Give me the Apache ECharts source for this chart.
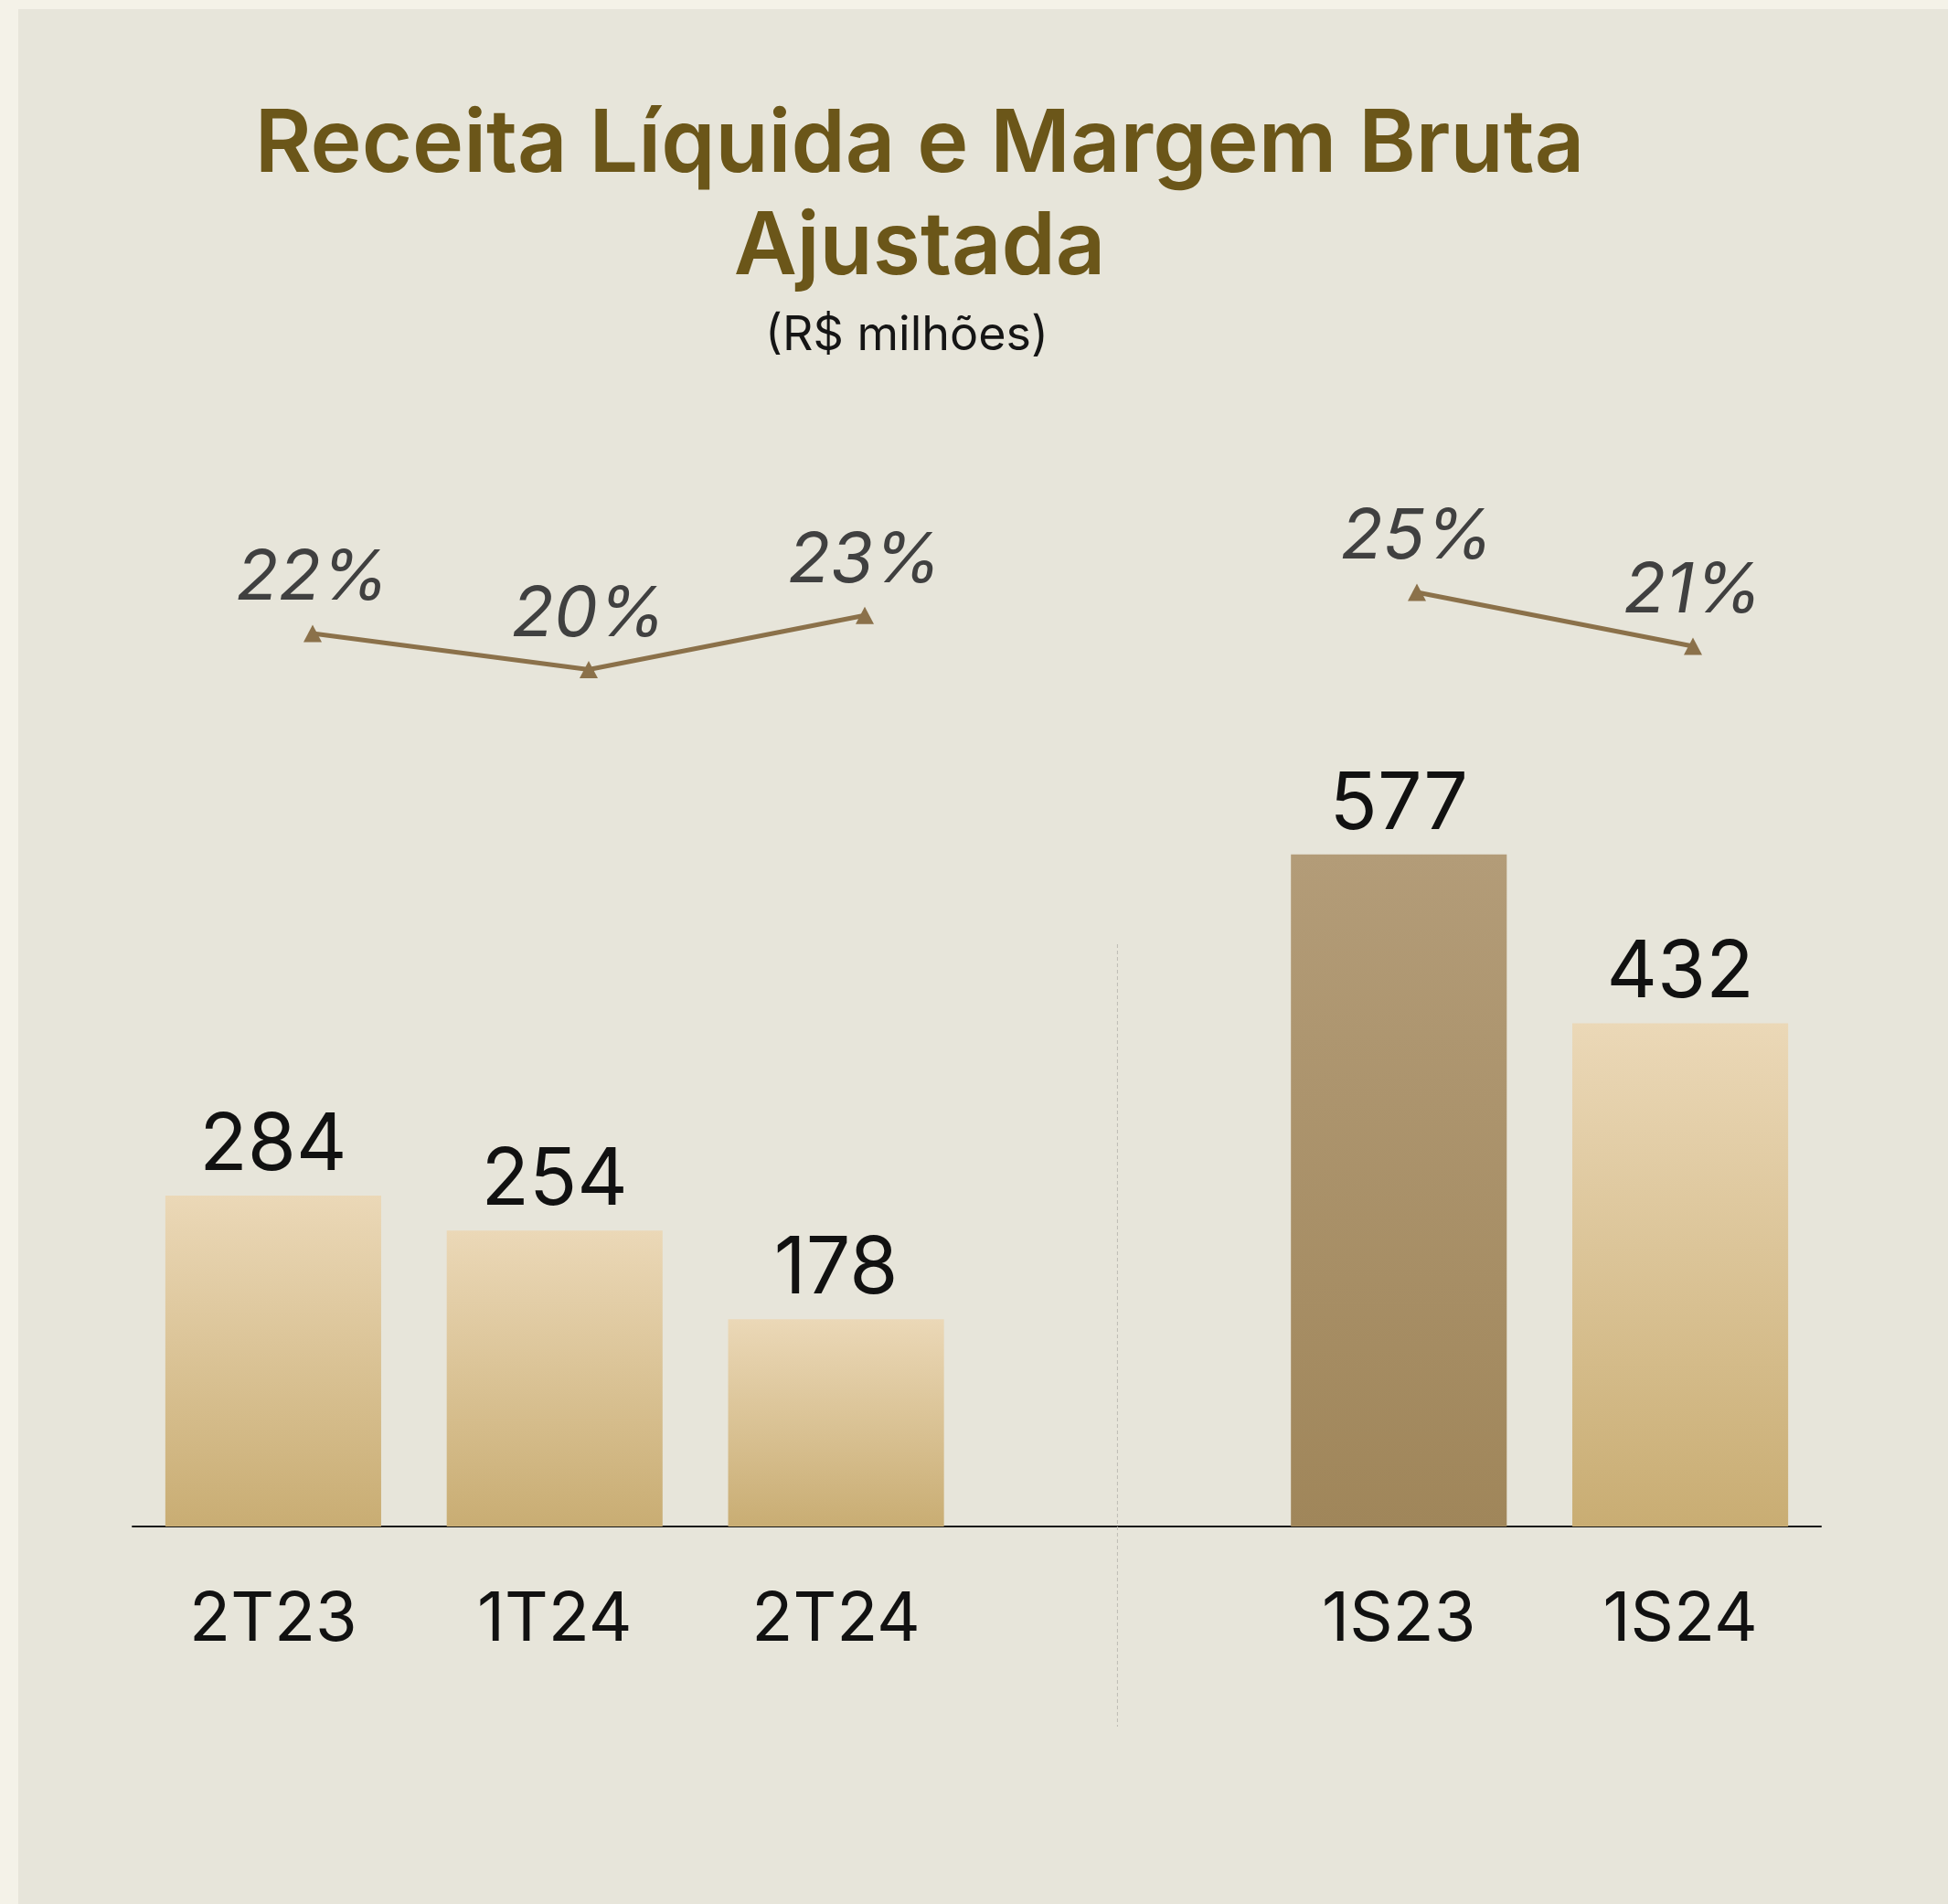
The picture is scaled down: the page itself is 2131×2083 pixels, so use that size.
<!DOCTYPE html>
<html>
<head>
<meta charset="utf-8">
<title>Receita Líquida e Margem Bruta Ajustada</title>
<script src="https://cdn.jsdelivr.net/npm/echarts@6/dist/echarts.min.js"></script>
<style>
  html, body { margin: 0; padding: 0; background: #F4F2E8; }
  #main { width: 2131px; height: 2083px; }
</style>
</head>
<body>
<div id="main"></div>
<script>
// categorias (a vazia separa trimestres de semestres)
const categories = ['2T23', '1T24', '2T24', '', '1S23', '1S24'];
// receita líquida (R$ milhões)
const revenue = [284, 254, 178, null, 577, 432];
// margem bruta ajustada (%)
const marginQuarters = [22, 20, 23, null, null, null];
const marginSemesters = [null, null, null, null, 25, 21];

const chart = echarts.init(document.getElementById('main'));

const lightBar = new echarts.graphic.LinearGradient(0, 0, 0, 1, [
    { offset: 0, color: '#EBD8B7' },
    { offset: 1, color: '#C9AD73' }
]);
const darkBar = new echarts.graphic.LinearGradient(0, 0, 0, 1, [
    { offset: 0, color: '#B39C78' },
    { offset: 1, color: '#A0865A' }
]);

const labelFont = 'Inter, "Liberation Sans", sans-serif';
const lineColor = '#8B714A';

const panel = {
    type: 'rect',
    z: -10,
    silent: true,
    shape: { x: 20, y: 10, width: 2111, height: 2073 },
    style: { fill: '#E7E5DA' }
};

function marginLabel() {
    return {
        show: true,
        position: 'top',
        distance: 12,
        formatter: '{c}%',
        fontFamily: labelFont,
        fontStyle: 'italic',
        fontSize: 76,
        color: '#404040'
    };
}

chart.setOption({
    backgroundColor: '#F4F2E8',
    animation: false,
    graphic: [panel],
    title: [{
        text: 'Receita Líquida e Margem Bruta\nAjustada',
        left: 1006,
        top: 103,
        padding: 0,
        textAlign: 'center',
        textStyle: {
            fontFamily: 'Inter, "Noto Sans", sans-serif',
            fontWeight: 600,
            fontSize: 95,
            lineHeight: 112,
            color: '#6B5619'
        }
    }, {
        text: '(R$ milhões)',
        left: 992,
        top: 341,
        padding: 0,
        textAlign: 'center',
        textStyle: {
            fontFamily: labelFont,
            fontWeight: 400,
            fontSize: 52,
            color: '#151515'
        }
    }],
    grid: [
        { left: 145, right: 139, top: 778, height: 892 },
        { left: 191, width: 1812, top: 535, height: 395 }
    ],
    xAxis: [{
        type: 'category',
        gridIndex: 0,
        data: categories,
        axisTick: { show: false },
        axisLine: { lineStyle: { color: '#161616', width: 2 } },
        axisLabel: {
            margin: 66,
            fontFamily: labelFont,
            fontSize: 74,
            color: '#111111'
        }
    }, {
        type: 'category',
        gridIndex: 1,
        data: categories,
        show: false
    }],
    yAxis: [{
        type: 'value',
        gridIndex: 0,
        min: 0,
        max: 700,
        show: false
    }, {
        type: 'value',
        gridIndex: 1,
        min: 10,
        max: 30,
        show: false
    }, {
        type: 'value',
        gridIndex: 1,
        min: 5.88,
        max: 32.66,
        show: false
    }],
    series: [{
        name: 'Receita Líquida',
        type: 'bar',
        xAxisIndex: 0,
        yAxisIndex: 0,
        barWidth: '76.7%',
        data: revenue.map((v, i) => ({
            value: v,
            itemStyle: { color: categories[i] === '1S23' ? darkBar : lightBar }
        })),
        label: {
            show: true,
            position: 'top',
            distance: 11,
            fontFamily: labelFont,
            fontSize: 86,
            color: '#111111'
        }
    }, {
        name: 'Margem Bruta (trimestres)',
        type: 'line',
        xAxisIndex: 1,
        yAxisIndex: 1,
        data: marginQuarters,
        symbol: 'triangle',
        symbolSize: [20, 19],
        lineStyle: { color: lineColor, width: 5 },
        itemStyle: { color: lineColor },
        label: marginLabel()
    }, {
        name: 'Margem Bruta (semestres)',
        type: 'line',
        xAxisIndex: 1,
        yAxisIndex: 2,
        data: marginSemesters,
        symbol: 'triangle',
        symbolSize: [20, 19],
        lineStyle: { color: lineColor, width: 5 },
        itemStyle: { color: lineColor },
        label: marginLabel()
    }]
});

// linha pontilhada separando trimestres e semestres
let dividerX = chart.convertToPixel({ xAxisIndex: 0 }, 3);
if (typeof dividerX !== 'number' || isNaN(dividerX)) dividerX = 1222;
chart.setOption({
    graphic: [panel, {
        type: 'line',
        z: 1,
        silent: true,
        shape: { x1: dividerX, y1: 1033, x2: dividerX, y2: 1889 },
        style: { stroke: '#BDBBB4', lineWidth: 1, lineDash: [4, 3] }
    }]
});
</script>
</body>
</html>
